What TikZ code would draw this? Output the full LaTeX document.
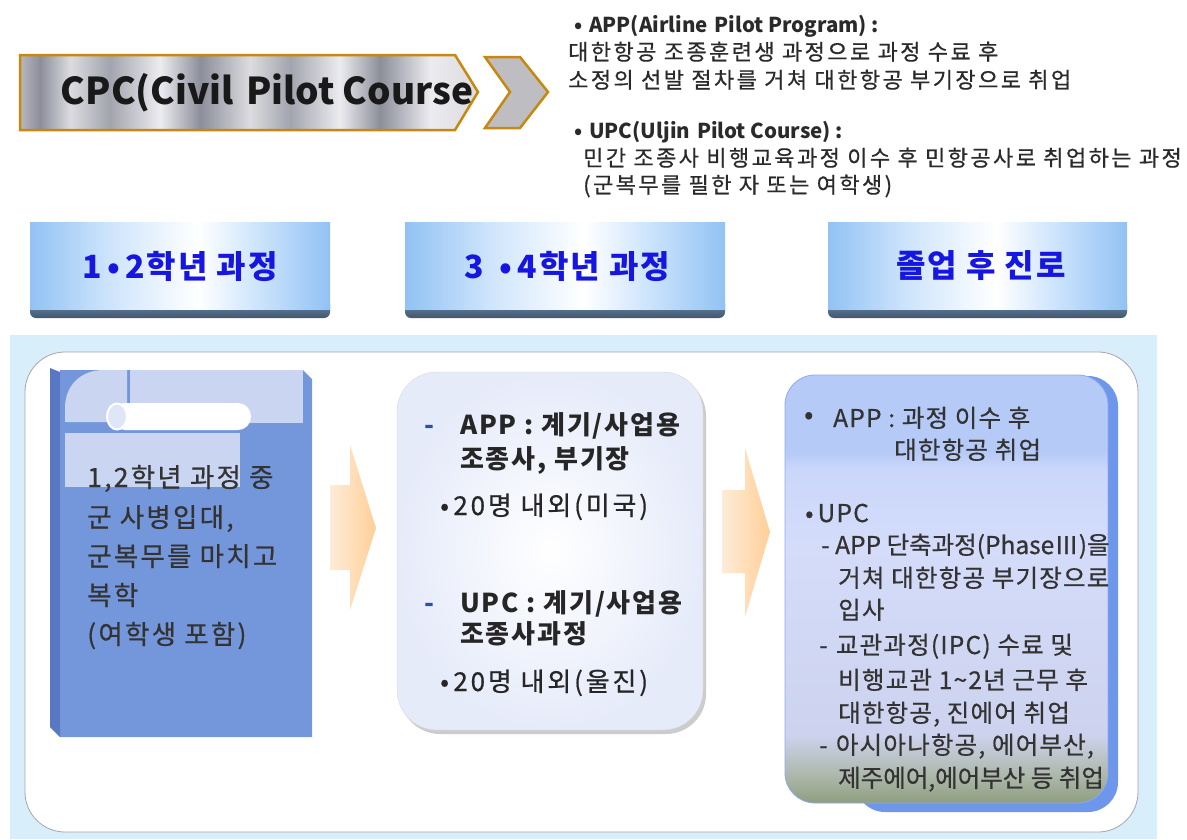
\documentclass[tikz,border=0pt]{standalone}
\usepackage{fontspec}
\setmainfont{Noto Sans CJK KR}
\newfontfamily\krtop{Noto Sans CJK KR}[FakeBold=0.6, LetterSpace=11]
\newfontfamily\krleft{Noto Sans CJK KR}[FakeBold=0.6, LetterSpace=8.5]
\newfontfamily\krmid{Noto Sans CJK KR}[FakeBold=0.6, LetterSpace=11]
\newfontfamily\krmidb{Noto Sans CJK KR}[LetterSpace=7]
\newfontfamily\krright{Noto Sans CJK KR}[FakeBold=0.6, LetterSpace=5]
\newfontfamily\krrightn{Noto Sans CJK KR}[FakeBold=0.6]
\newfontfamily\krhdr{Noto Sans CJK KR}[LetterSpace=6]
\definecolor{gold}{HTML}{C8870F}
\definecolor{chev}{HTML}{BEBEC2}
\definecolor{hdrtext}{HTML}{1616E0}
\definecolor{panel}{HTML}{D8EEFB}
\definecolor{bookblue}{HTML}{7497DC}
\definecolor{bookside}{HTML}{5878C4}
\definecolor{booklight}{HTML}{C9D5F1}
\definecolor{arrowA}{HTML}{FEECD8}
\definecolor{arrowB}{HTML}{FFCF98}
\definecolor{rbback}{HTML}{6E96EA}
\definecolor{rbedge}{HTML}{8EAAEA}
\definecolor{darktxt}{HTML}{2A2A2A}
\definecolor{dashblue}{HTML}{2850B0}
\definecolor{midouter}{HTML}{E6EBFA}
\definecolor{mA}{HTML}{B8B8C0}
\definecolor{mB}{HTML}{8C8E9A}
\definecolor{mC}{HTML}{DCDCE0}
\definecolor{mD}{HTML}{A2A4AE}
\definecolor{mE}{HTML}{ECECF0}
\definecolor{hA}{HTML}{92C2F4}
\definecolor{hB}{HTML}{CDE4FC}
\definecolor{hC}{HTML}{FFFFFF}
\definecolor{gA}{HTML}{8E9E7E}
\definecolor{gB}{HTML}{ABB6A8}
\definecolor{gC}{HTML}{CDD3EE}
\definecolor{gD}{HTML}{D4DCFA}
\definecolor{gE}{HTML}{CBD7FA}
\definecolor{gF}{HTML}{B6CAF7}
\pgfdeclarehorizontalshading{metal}{100bp}{color(0bp)=(mA); color(25bp)=(mA); color(27.2bp)=(mB); color(30.5bp)=(mC); color(34.8bp)=(mD); color(40.3bp)=(mE); color(44.7bp)=(mB); color(50.1bp)=(mC); color(54.5bp)=(mD); color(59.9bp)=(mE); color(64.3bp)=(mB); color(69.8bp)=(mE); color(75bp)=(mC); color(100bp)=(mC)}
\pgfdeclarehorizontalshading{hdr}{100bp}{color(0bp)=(hA); color(25bp)=(hA); color(38bp)=(hB); color(53bp)=(hC); color(63bp)=(hB); color(75bp)=(hA); color(100bp)=(hA)}
\pgfdeclareverticalshading{rbox}{100bp}{color(0bp)=(gA); color(25bp)=(gA); color(28bp)=(gB); color(33bp)=(gC); color(55bp)=(gD); color(64bp)=(gE); color(66bp)=(gF); color(75bp)=(gF); color(100bp)=(gF)}
\begin{document}
\begin{tikzpicture}[x=1pt,y=-1pt,
  txt/.style={inner sep=0pt, anchor=base west, text=darktxt},
  toptxt/.style={txt, font=\krtop\fontsize{22}{26}\selectfont},
  toptitle/.style={txt, font=\bfseries\fontsize{20.5}{24}\selectfont},
  hdrtxt/.style={inner sep=0pt, anchor=center, text=hdrtext, font=\krhdr\bfseries\fontsize{32}{36}\selectfont},
  lefttxt/.style={txt, text=black!80, font=\krleft\fontsize{26.5}{30}\selectfont},
  midtxt/.style={txt, text=black!85, font=\krmidb\bfseries\fontsize{26}{30}\selectfont},
  midreg/.style={txt, text=black!85, font=\krmid\fontsize{26}{30}\selectfont},
  righttxt/.style={txt, text=black!80, font=\krright\fontsize{24.5}{28}\selectfont},
  hdrshadow/.style={shade, top color=black!25!hA, bottom color=black!55!hA, rounded corners=6pt},
  hdrbox/.style={shade, shading=hdr},
  orangearrow/.style={shade, left color=arrowA, right color=arrowB}
]
\useasboundingbox (0,0) rectangle (1187,839);
\fill[white] (0,0) rectangle (1187,839);

% ---------- CPC banner ----------
\path[shade, shading=metal, draw=gold, line width=2.5pt, line join=miter]
  (20,55) -- (455,55) -- (478,92) -- (455,130) -- (20,130) -- cycle;
\path[fill=chev, draw=gold, line width=2.5pt, line join=miter]
  (485,57) -- (520,57) -- (548,92) -- (520,128) -- (485,128) -- (510,92) -- cycle;
\node[inner sep=0pt, anchor=center, font=\bfseries\fontsize{37}{44}\selectfont, text=black!90] (cpc) at (267,93) {CPC(Civil\,\,Pilot Course};

% ---------- top-right notes ----------
\node[toptitle] (appt) at (574,32) {•\,\,APP(Airline\,\,Pilot Program) :};
\node[toptxt] (app1) at (568,60) {대한항공 조종훈련생 과정으로 과정 수료 후};
\node[toptxt] (app2) at (568,88) {소정의 선발 절차를 거쳐 대한항공 부기장으로 취업};
\node[toptitle] (upct) at (574,138) {•\,\,UPC(Uljin\,\,Pilot Course) :};
\node[toptxt] (upc1) at (583,166) {민간 조종사 비행교육과정 이수 후 민항공사로 취업하는 과정};
\node[toptxt] (upc2) at (583,193) {(군복무를 필한 자 또는 여학생)};

% ---------- header boxes ----------
\path[hdrshadow] (30,298) rectangle (330,318);
\path[hdrbox] (30,222) rectangle (330,309);
\node[hdrtxt] (h1) at (180,266) {1\,•\,2학년 과정};
\path[hdrshadow] (405,298) rectangle (725,318);
\path[hdrbox] (405,222) rectangle (725,309);
\node[hdrtxt] (h2) at (567,266) {3\,\,\,•\,4학년 과정};
\path[hdrshadow] (828,298) rectangle (1127,318);
\path[hdrbox] (828,222) rectangle (1127,309);
\node[hdrtxt] (h3) at (981,266) {졸업 후 진로};

% ---------- main panel ----------
\fill[panel] (10,335) rectangle (1157,839);
\path[fill=white, draw=black!35, line width=0.8pt, rounded corners=40pt] (25,352) rectangle (1138,832);

% ---------- left book ----------
\fill[bookblue] (60,370) -- (303,370) -- (312,379) -- (312,737) -- (60,737) -- cycle;
\fill[bookside] (50,368) -- (60,372) -- (60,737) -- (50,727) -- cycle;
\fill[booklight] (130,370) rectangle (303,423);
\fill[booklight] (65,422) -- (65,408) .. controls (65,386) and (80,370) .. (104,370) -- (127,370) -- (127,422) -- cycle;
\fill[booklight] (65,433) rectangle (240,487);
\path[fill=white, rounded corners=13pt] (112,403) rectangle (251,430);
\path[fill=booklight!60!white, draw=white, line width=2pt] (117,416.5) ellipse[x radius=10, y radius=13];
\node[lefttxt] (l1) at (87,487) {1,2학년 과정 중};
\node[lefttxt] (l2) at (87,527) {군 사병입대,};
\node[lefttxt] (l3) at (87,566) {군복무를 마치고};
\node[lefttxt] (l4) at (87,605) {복학};
\node[lefttxt] (l5) at (87,644) {(여학생 포함)};

% ---------- arrows ----------
\path[orangearrow] (330,485) -- (350,485) -- (350,445) -- (376,528) -- (350,610) -- (350,570) -- (330,570) -- cycle;
\path[orangearrow] (722,490) -- (745,490) -- (745,448) -- (770,532) -- (745,617) -- (745,573) -- (722,573) -- cycle;

% ---------- middle box ----------
\path[fill=black!20, rounded corners=40pt] (400,376) rectangle (706,734);
\path[inner color=white, outer color=midouter, draw=black!15, rounded corners=40pt] (397,372) rectangle (703,730);
\node[midtxt, text=dashblue] (d1) at (424,434) {-};
\node[midtxt] (m1) at (460,434) {APP : 계기/사업용};
\node[midtxt] (m2) at (460,468) {조종사, 부기장};
\node[midreg] (m3) at (440,515) {•\,20명\,\,내외(미국)};
\node[midtxt, text=dashblue] (d2) at (424,612) {-};
\node[midtxt] (m4) at (460,612) {UPC : 계기/사업용};
\node[midtxt] (m5) at (460,643) {조종사과정};
\node[midreg] (m6) at (440,691) {•\,20명\,\,내외(울진)};

% ---------- right box ----------
\path[fill=rbback, rounded corners=30pt] (855,376) rectangle (1118,812);
\path[shade, shading=rbox, draw=rbedge, line width=0.8pt, rounded corners=30pt] (785,375) rectangle (1108,803);
\node[righttxt, font=\fontsize{28}{28}\selectfont] (rb1) at (804,424) {•};
\node[righttxt] (r1) at (833,427) {APP : 과정 이수 후};
\node[righttxt] (r2) at (894,459) {대한항공 취업};
\node[righttxt] (r3) at (805,522) {•\,UPC};
\node[righttxt, font=\krrightn\fontsize{24.5}{28}\selectfont] (r4) at (821,554) {- APP 단축과정(PhaseⅢ)을};
\node[righttxt] (r5) at (838,587) {거쳐 대한항공 부기장으로};
\node[righttxt] (r6) at (838,619) {입사};
\node[righttxt] (r7) at (819,654) {-\,\,교관과정(IPC) 수료 및};
\node[righttxt] (r8) at (838,689) {비행교관 1\textasciitilde2년 근무 후};
\node[righttxt] (r9) at (838,722) {대한항공, 진에어 취업};
\node[righttxt] (r10) at (819,754) {-\,\,아시아나항공, 에어부산,};
\node[righttxt, font=\krrightn\fontsize{24.5}{28}\selectfont] (r11) at (838,787) {제주에어,에어부산 등 취업};
\end{tikzpicture}
\end{document}
